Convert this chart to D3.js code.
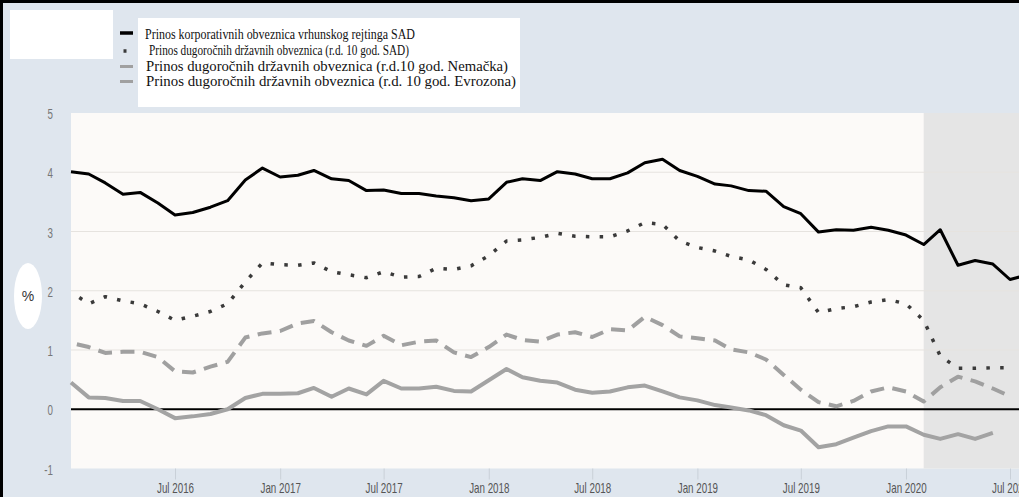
<!DOCTYPE html>
<html>
<head>
<meta charset="utf-8">
<script src="https://cdn.jsdelivr.net/npm/d3@7"></script>
<style>
  html, body { margin: 0; padding: 0; background: #ffffff; overflow: hidden; }
  svg { display: block; }
</style>
</head>
<body>
<svg id="chart" width="1019" height="497"></svg>
<script>
// Monthly yields (%), starting January 2016
const corpSAD = [4.01, 3.97, 3.82, 3.63, 3.66, 3.48, 3.28, 3.32, 3.41, 3.52, 3.87, 4.07,
                 3.92, 3.95, 4.03, 3.89, 3.86, 3.69, 3.70, 3.64, 3.64, 3.60, 3.57, 3.52,
                 3.55, 3.83, 3.89, 3.86, 4.01, 3.97, 3.89, 3.89, 3.99, 4.16, 4.22, 4.03,
                 3.93, 3.80, 3.77, 3.69, 3.68, 3.42, 3.30, 2.99, 3.03, 3.02, 3.07, 3.02,
                 2.94, 2.78, 3.03, 2.43, 2.51, 2.45, 2.19, 2.27];
const govSAD  = [1.98, 1.78, 1.90, 1.83, 1.78, 1.65, 1.50, 1.57, 1.65, 1.78, 2.15, 2.47,
                 2.44, 2.43, 2.47, 2.32, 2.27, 2.22, 2.32, 2.23, 2.24, 2.38, 2.36, 2.42,
                 2.59, 2.84, 2.86, 2.90, 2.97, 2.92, 2.91, 2.91, 3.01, 3.15, 3.12, 2.84,
                 2.73, 2.67, 2.58, 2.52, 2.36, 2.10, 2.05, 1.63, 1.70, 1.73, 1.81, 1.85,
                 1.78, 1.50, 0.90, 0.69, 0.69, 0.70, 0.70];
const govDE   = [1.12, 1.05, 0.95, 0.97, 0.97, 0.88, 0.64, 0.62, 0.72, 0.80, 1.21, 1.28,
                 1.32, 1.45, 1.49, 1.30, 1.16, 1.07, 1.24, 1.08, 1.14, 1.16, 0.96, 0.88,
                 1.05, 1.26, 1.17, 1.14, 1.26, 1.30, 1.22, 1.35, 1.33, 1.56, 1.42, 1.23,
                 1.20, 1.16, 1.01, 0.96, 0.84, 0.58, 0.33, 0.12, 0.05, 0.14, 0.30, 0.37,
                 0.30, 0.13, 0.37, 0.55, 0.47, 0.35, 0.22];
const govEZ   = [0.45, 0.20, 0.19, 0.14, 0.14, 0.00, -0.15, -0.12, -0.08, 0.00, 0.19, 0.26,
                 0.26, 0.27, 0.36, 0.21, 0.35, 0.25, 0.48, 0.35, 0.35, 0.38, 0.31, 0.30,
                 0.49, 0.68, 0.54, 0.48, 0.45, 0.33, 0.28, 0.30, 0.37, 0.40, 0.30, 0.20,
                 0.15, 0.07, 0.03, -0.02, -0.10, -0.27, -0.36, -0.64, -0.59, -0.48, -0.37, -0.29,
                 -0.29, -0.43, -0.50, -0.42, -0.50, -0.40];

const legendLabels = [
  "Prinos korporativnih obveznica vrhunskog rejtinga SAD",
  "Prinos dugoročnih državnih obveznica (r.d. 10 god. SAD)",
  "Prinos dugoročnih državnih obveznica (r.d.10 god. Nemačka)",
  "Prinos dugoročnih državnih obveznica (r.d. 10 god. Evrozona)"
];
const xTickLabels = ["Jul 2016", "Jan 2017", "Jul 2017", "Jan 2018", "Jul 2018",
                     "Jan 2019", "Jul 2019", "Jan 2020", "Jul 2020"];
const yTickValues = [-1, 0, 1, 2, 3, 4, 5];
const shadeFrom = "Feb 2020";
const yUnit = "%";

// ---- layout ----
const W = 1019, H = 497;
const plot = { left: 71, right: 1010, top: 113, bottom: 468.5 };
const parseMonth = d3.timeParse("%b %Y");
const start = new Date(2016, 0, 1);
const months = d3.timeMonth.range(start, d3.timeMonth.offset(start, corpSAD.length));

const x = d3.scaleTime()
  .domain([start, parseMonth("Jul 2020")])
  .range([plot.left, plot.right]);
const y = d3.scaleLinear()
  .domain([-1, 5])
  .range([plot.bottom, plot.top]);

const svg = d3.select("#chart");

// page background and corner box
svg.append("rect").attr("width", W).attr("height", H).attr("fill", "#dfe6ee");
svg.append("rect").attr("x", 10).attr("y", 10).attr("width", 103).attr("height", 49).attr("fill", "#ffffff");

// plot area
svg.append("rect")
  .attr("x", plot.left).attr("y", plot.top)
  .attr("width", W - plot.left).attr("height", plot.bottom - plot.top)
  .attr("fill", "#fcfaf8");
svg.append("rect")
  .attr("x", x(parseMonth(shadeFrom))).attr("y", plot.top)
  .attr("width", W - x(parseMonth(shadeFrom))).attr("height", plot.bottom - plot.top)
  .attr("fill", "#e5e5e5");

// horizontal gridlines
svg.append("g").selectAll("line")
  .data(yTickValues.filter(v => v > -1 && v < 5 && v !== 0))
  .join("line")
  .attr("x1", plot.left).attr("x2", W)
  .attr("y1", d => y(d)).attr("y2", d => y(d))
  .attr("stroke", "#e6e3df").attr("stroke-width", 1);

// y tick labels
svg.append("g").selectAll("text")
  .data(yTickValues)
  .join("text")
  .attr("transform", d => `translate(53,${y(d) + 6}) scale(0.7,1)`)
  .attr("text-anchor", "end")
  .attr("font-family", "'Liberation Sans', Arial, sans-serif")
  .attr("font-size", 14)
  .attr("fill", "#777777")
  .text(d => d);

// unit badge
svg.append("ellipse").attr("cx", 28).attr("cy", 296).attr("rx", 14).attr("ry", 33).attr("fill", "#ffffff");
svg.append("text")
  .attr("x", 28).attr("y", 301)
  .attr("text-anchor", "middle")
  .attr("font-family", "'Liberation Sans', Arial, sans-serif")
  .attr("font-size", 14)
  .attr("fill", "#333333")
  .text(yUnit);

// x axis
const xAxis = d3.axisBottom(x)
  .tickValues(xTickLabels.map(parseMonth))
  .tickSize(11)
  .tickPadding(4)
  .tickFormat((d, i) => xTickLabels[i]);
const gx = svg.append("g")
  .attr("transform", `translate(0,${plot.bottom})`)
  .call(xAxis);
gx.select(".domain").remove();
gx.selectAll(".tick line").attr("stroke", "#c9d0d8");
gx.selectAll(".tick text")
  .attr("font-family", "'Liberation Sans', Arial, sans-serif")
  .attr("font-size", 14)
  .attr("fill", "#555555")
  .attr("transform", "scale(0.7,1)");

// series
const line = d3.line()
  .x((d, i) => x(months[i]))
  .y(d => y(d));

const series = [
  { values: govEZ,   stroke: "#a3a3a3", width: 4,   dash: null,        offset: 0 },
  { values: govDE,   stroke: "#a0a0a0", width: 4,   dash: "14,8.5",    offset: 16.5 },
  { values: govSAD,  stroke: "#3a3a3a", width: 3.5, dash: "3.5,10.3",  offset: 3.8 },
  { values: corpSAD, stroke: "#000000", width: 3,   dash: null,        offset: 0 }
];

// zero baseline
svg.append("line")
  .attr("x1", plot.left).attr("x2", W)
  .attr("y1", y(0)).attr("y2", y(0))
  .attr("stroke", "#000000").attr("stroke-width", 2);

svg.append("g").selectAll("path")
  .data(series)
  .join("path")
  .attr("d", d => line(d.values))
  .attr("fill", "none")
  .attr("stroke", d => d.stroke)
  .attr("stroke-width", d => d.width)
  .attr("stroke-linejoin", "round")
  .attr("stroke-dasharray", d => d.dash)
  .attr("stroke-dashoffset", d => d.offset);

// legend
svg.append("rect").attr("x", 138).attr("y", 18).attr("width", 382).attr("height", 89).attr("fill", "#ffffff");
const legendRows = [
  { y: 38.5, sy: 33,   len: 270, tx: 145, kind: "solid", color: "#000000", w: 3.5 },
  { y: 55,   sy: 51,   len: 260, tx: 149, kind: "dot",   color: "#3a3a3a", w: 3.5 },
  { y: 71,   sy: 66.5, len: 362, tx: 146, kind: "solid", color: "#a0a0a0", w: 3 },
  { y: 86,   sy: 81.5, len: 370, tx: 146, kind: "solid", color: "#a0a0a0", w: 3 }
];
const lg = svg.append("g");
legendRows.forEach((r, i) => {
  if (r.kind === "dot") {
    lg.append("rect").attr("x", 123.5).attr("y", r.sy - 1.75).attr("width", 3).attr("height", 3.5).attr("fill", r.color);
  } else {
    lg.append("line").attr("x1", 120).attr("x2", 133).attr("y1", r.sy).attr("y2", r.sy)
      .attr("stroke", r.color).attr("stroke-width", r.w);
  }
  lg.append("text")
    .attr("x", r.tx).attr("y", r.y)
    .attr("font-family", "'Liberation Serif', 'Times New Roman', serif")
    .attr("font-size", 15.5)
    .attr("fill", "#111111")
    .attr("textLength", r.len)
    .attr("lengthAdjust", "spacingAndGlyphs")
    .text(legendLabels[i]);
});

// frame
svg.append("rect").attr("x", 0).attr("y", 0).attr("width", W).attr("height", 3).attr("fill", "#000");
svg.append("rect").attr("x", 0).attr("y", 0).attr("width", 3).attr("height", H).attr("fill", "#000");
</script>
</body>
</html>
